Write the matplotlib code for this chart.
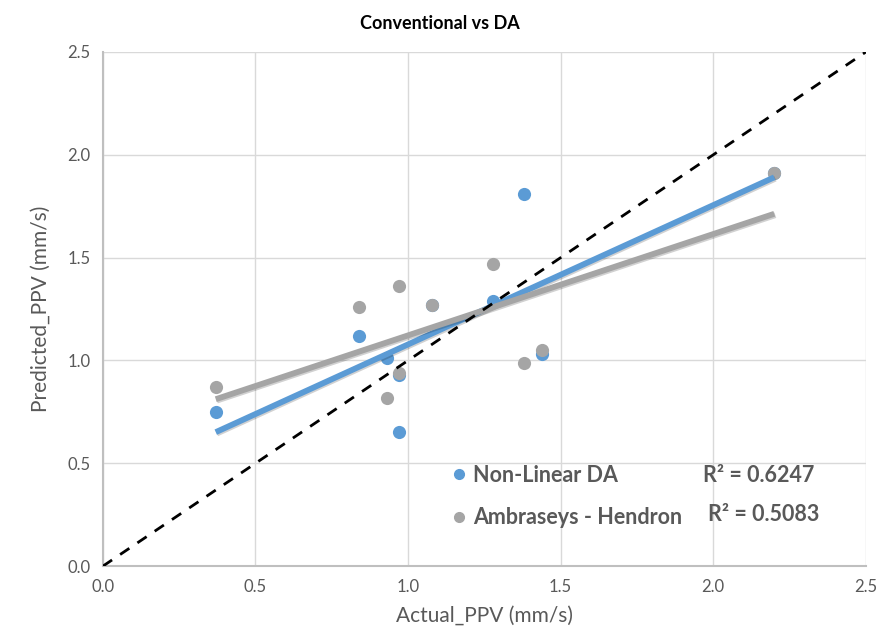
import numpy as np
import matplotlib
matplotlib.use("Agg")
import matplotlib.pyplot as plt
import matplotlib.patheffects as pe
from matplotlib.lines import Line2D

# ---- data ----
actual_da = [0.37, 0.84, 0.93, 0.97, 0.97, 1.08, 1.28, 1.38, 1.44, 2.20]
pred_da = [0.75, 1.12, 1.01, 0.93, 0.65, 1.27, 1.29, 1.81, 1.03, 1.91]
actual_ah = [0.37, 0.84, 0.93, 0.97, 0.97, 1.08, 1.28, 1.38, 1.44, 2.20]
pred_ah = [0.87, 1.26, 0.82, 1.36, 0.94, 1.27, 1.47, 0.99, 1.05, 1.91]
series_names = ["Non-Linear DA", "Ambraseys - Hendron"]
r2_labels = ["R² = 0.6247", "R² = 0.5083"]
ticks = [0.0, 0.5, 1.0, 1.5, 2.0, 2.5]

blue = "#5B9BD5"
gray = "#A5A5A5"
txt = "#595959"
plt.rcParams['font.family'] = ['Lato', 'DejaVu Sans']

fig = plt.figure(figsize=(8.79, 6.34), dpi=100)
ax = fig.add_axes([0.117, 0.107, 0.868, 0.811])

ax.set_xlim(0, 2.5)
ax.set_ylim(0, 2.5)
ax.set_xticks(ticks)
ax.set_yticks(ticks)
ax.set_xticklabels([f"{t:.1f}" for t in ticks])
ax.set_yticklabels([f"{t:.1f}" for t in ticks])
ax.tick_params(length=0, labelsize=12, colors=txt, pad=9)
ax.grid(True, color="#D9D9D9", linewidth=1)
ax.set_axisbelow(True)
for s in ["top", "right"]:
    ax.spines[s].set_visible(False)
for s in ["bottom", "left"]:
    ax.spines[s].set_color("#BFBFBF")
    ax.spines[s].set_linewidth(1.5)

ax.scatter(actual_da, pred_da, s=90, color=blue, zorder=3, linewidths=0)
ax.scatter(actual_ah, pred_ah, s=90, color=gray, zorder=3, linewidths=0)

shadow = [pe.SimpleLineShadow(offset=(0.8, -1.0), alpha=0.18, shadow_color="#000000"), pe.Normal()]
for xs, ys, c in [(actual_da, pred_da, blue), (actual_ah, pred_ah, gray)]:
    m, b = np.polyfit(xs, ys, 1)
    xx = np.array([min(xs), max(xs)])
    ax.plot(xx, m * xx + b, color=c, linewidth=4.2, solid_capstyle="butt", zorder=4,
            path_effects=shadow)

ax.plot([0, 2.5], [0, 2.5], color="black", linestyle=(0, (4, 3.5)), linewidth=2, zorder=5)

handles = [Line2D([], [], marker="o", linestyle="none", color=blue, markersize=7),
           Line2D([], [], marker="o", linestyle="none", color=gray, markersize=7)]
leg = ax.legend(handles, series_names, loc="upper left", bbox_to_anchor=(0.43, 0.235),
                frameon=False, handletextpad=0.25, labelspacing=1.0,
                prop={"size": 15.5, "weight": "bold"}, handlelength=0.8)
for t in leg.get_texts():
    t.set_color(txt)

ax.text(0.787, 0.176, r2_labels[0], transform=ax.transAxes, fontsize=15.5, fontweight="bold",
        color=txt, va="center", ha="left")
ax.text(0.793, 0.101, r2_labels[1], transform=ax.transAxes, fontsize=15.5, fontweight="bold",
        color=txt, va="center", ha="left")

ax.set_xlabel("Actual_PPV (mm/s)", fontsize=15, color=txt, labelpad=8)
ax.set_ylabel("Predicted_PPV (mm/s)", fontsize=15, color=txt, labelpad=12)
fig.suptitle("Conventional vs DA", y=0.977, fontsize=13, fontweight="bold", color="black")

fig.savefig("out.png", dpi=100)
